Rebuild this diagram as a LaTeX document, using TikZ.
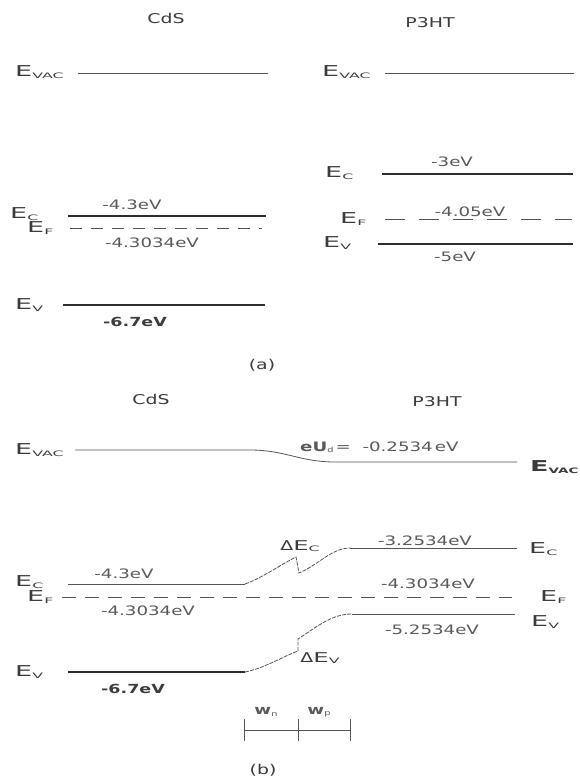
\documentclass[tikz,border=0pt]{standalone}
\usepackage{fontspec}
\setmainfont{DejaVu Sans}[FakeStretch=1.4]
\newfontfamily\widefont{DejaVu Sans}[FakeStretch=1.8]
\newfontfamily\subfont{DejaVu Sans}[FakeStretch=2.1]
\definecolor{txt}{HTML}{3C3C3C}
\definecolor{vtxt}{HTML}{5A5A5A}
\definecolor{ln}{HTML}{2E2E2E}
\definecolor{lnl}{HTML}{555555}
\newcommand{\En}[1]{{\widefont E\raisebox{-0.2ex}{\subfont\fontsize{7.5}{7.5}\selectfont #1}}}
\newcommand{\EnB}[1]{{\widefont\bfseries E\raisebox{-0.2ex}{\fontsize{7.5}{7.5}\selectfont #1}}}
\newcommand{\Dn}[1]{Δ{\widefont E\raisebox{-0.2ex}{\subfont\fontsize{7.5}{7.5}\selectfont #1}}}
\tikzset{
  lab/.style={font=\fontsize{15}{15}\selectfont, text=txt, inner sep=0pt, anchor=west},
  val/.style={font=\fontsize{13}{13}\selectfont, text=vtxt, inner sep=0pt},
  bval/.style={font=\bfseries\fontsize{12.5}{12.5}\selectfont, text=txt, inner sep=0pt},
  ttl/.style={font=\fontsize{13.5}{13.5}\selectfont, text=txt, inner sep=0pt},
  thinlvl/.style={draw=lnl, line width=0.8pt},
  medlvl/.style={draw=ln, line width=1.3pt},
  thicklvl/.style={draw=ln, line width=2.2pt},
  fermi/.style={draw=lnl, line width=1pt, dash pattern=on 12pt off 9pt},
  bandbend/.style={draw=lnl, line width=0.8pt, dash pattern=on 4pt off 1.2pt},
}
\begin{document}
\begin{tikzpicture}[x=1pt,y=-1pt]
\useasboundingbox (0,0) rectangle (580,778);
\fill[white] (0,0) rectangle (580,778);

% ================= (a) =================
\node[ttl] (tCdSa) at (166,18) {CdS};
\node[ttl] (tP3a) at (430,23) {P3HT};

% CdS
\node[lab] (aVacL) at (15,72) {\En{VAC}};
\coordinate (aVacL1) at (78,73); \coordinate (aVacL2) at (268,73);
\draw[thinlvl] (aVacL1) -- (aVacL2);

\node[lab] (aEcL) at (10,214) {\En{C}};
\coordinate (aEcL1) at (68,216); \coordinate (aEcL2) at (266,216);
\draw[medlvl] (aEcL1) -- (aEcL2);
\node[val] (aEcLv) at (132,205) {-4.3eV};

\node[lab] (aEfL) at (27,228) {\En{F}};
\coordinate (aEfL1) at (70,228); \coordinate (aEfL2) at (262,228);
\draw[fermi] (aEfL1) -- (aEfL2);
\node[val] (aEfLv) at (152,243) {-4.3034eV};

\node[lab] (aEvL) at (15,305) {\En{V}};
\coordinate (aEvL1) at (63,305); \coordinate (aEvL2) at (265,305);
\draw[thicklvl] (aEvL1) -- (aEvL2);
\node[bval] (aEvLv) at (135,322) {-6.7eV};

% P3HT
\node[lab] (aVacR) at (322,72) {\En{VAC}};
\coordinate (aVacR1) at (385,73); \coordinate (aVacR2) at (574,73);
\draw[thinlvl] (aVacR1) -- (aVacR2);

\node[lab] (aEcR) at (325,173) {\En{C}};
\coordinate (aEcR1) at (382,174); \coordinate (aEcR2) at (573,174);
\draw[thicklvl] (aEcR1) -- (aEcR2);
\node[val] (aEcRv) at (452,162) {-3eV};

\node[lab] (aEfR) at (340,219) {\En{F}};
\coordinate (aEfR1) at (385,219); \coordinate (aEfR2) at (572,219);
\draw[draw=lnl, line width=0.9pt, dash pattern=on 20pt off 14pt] (aEfR1) -- (aEfR2);
\node[val] (aEfRv) at (470,212) {-4.05eV};

\node[lab] (aEvR) at (323,243) {\En{V}};
\coordinate (aEvR1) at (378,244); \coordinate (aEvR2) at (573,244);
\draw[thicklvl] (aEvR1) -- (aEvR2);
\node[val] (aEvRv) at (455,257) {-5eV};

\node[ttl] (capa) at (262,365) {(a)};

% ================= (b) =================
\node[ttl] (tCdSb) at (151,399) {CdS};
\node[ttl] (tP3b) at (437,402) {P3HT};

% vacuum level
\node[lab] (bVacL) at (15,450) {\En{VAC}};
\coordinate (bVac1) at (75,450); \coordinate (bVac2) at (250,450);
\coordinate (bVac3) at (335,462); \coordinate (bVac4) at (517,462);
\draw[thinlvl] (bVac1) -- (bVac2) .. controls (285,450) and (300,462) .. (bVac3) -- (bVac4);
\node[lab] (bVacR) at (530,467) {\EnB{VAC}};
\node[val, anchor=west] (bUd) at (300,447) {{\bfseries eU}\raisebox{-0.2ex}{\fontsize{7}{7}\selectfont d}\,= \ -0.2534\,eV};

% conduction band
\node[lab] (bEcL) at (15,582) {\En{C}};
\coordinate (bEc1) at (68,584); \coordinate (bEc2) at (245,584);
\coordinate (bEc3) at (296,557); \coordinate (bEc4) at (299,573);
\coordinate (bEc5) at (350,548); \coordinate (bEc6) at (517,548);
\draw[thinlvl] (bEc1) -- (bEc2);
\draw[bandbend] (bEc2) .. controls (262,578) and (280,565) .. (bEc3) -- (bEc4) .. controls (318,565) and (332,548) .. (bEc5);
\draw[thinlvl] (bEc5) -- (bEc6);
\node[val] (bEcLv) at (124,574) {-4.3eV};
\node[val] (bEcRv) at (425,541) {-3.2534eV};
\node[lab] (bEcR) at (529,549) {\En{C}};
\node[ttl] (dEc) at (300,546) {\Dn{C}};

% Fermi level
\node[lab] (bEfL) at (27,597) {\En{F}};
\coordinate (bEf1) at (62,597); \coordinate (bEf2) at (512,597);
\draw[draw=lnl, line width=1pt, dash pattern=on 14pt off 9pt] (bEf1) -- (bEf2);
\node[val] (bEfLv) at (148,611) {-4.3034eV};
\node[val] (bEfRv) at (428,584) {-4.3034eV};
\node[lab] (bEfR) at (540,597) {\En{F}};

% valence band
\node[lab] (bEvL) at (15,672) {\En{V}};
\coordinate (bEv1) at (68,672); \coordinate (bEv2) at (245,672);
\coordinate (bEv3) at (298,651); \coordinate (bEv4) at (298,639);
\coordinate (bEv5) at (352,614); \coordinate (bEv6) at (515,614);
\draw[draw=ln, line width=1.3pt] (bEv1) -- (bEv2);
\draw[bandbend] (bEv2) .. controls (265,668) and (284,656) .. (bEv3) -- (bEv4) .. controls (318,626) and (332,614) .. (bEv5);
\draw[thinlvl] (bEv5) -- (bEv6);
\node[bval] (bEvLv) at (133,689) {-6.7eV};
\node[val] (bEvRv) at (432,630) {-5.2534eV};
\node[lab] (bEvR) at (531,622) {\En{V}};
\node[ttl] (dEv) at (320,658) {\Dn{V}};

% depletion widths
\node[val] (wn) at (266,712) {{\bfseries w}\raisebox{-0.2ex}{\fontsize{7}{7}\selectfont n}};
\node[val] (wp) at (319,712) {{\bfseries w}\raisebox{-0.2ex}{\fontsize{7}{7}\selectfont p}};
\coordinate (s1) at (244,730); \coordinate (s2) at (298,730); \coordinate (s3) at (350,730);
\draw[draw=lnl, line width=0.9pt] (s1) -- (s3);
\foreach \p in {s1,s2,s3} \draw[draw=lnl, line width=0.9pt] ([yshift=-11pt]\p) -- ([yshift=11pt]\p);

\node[ttl] (capb) at (263,770) {(b)};
\end{tikzpicture}
\end{document}
